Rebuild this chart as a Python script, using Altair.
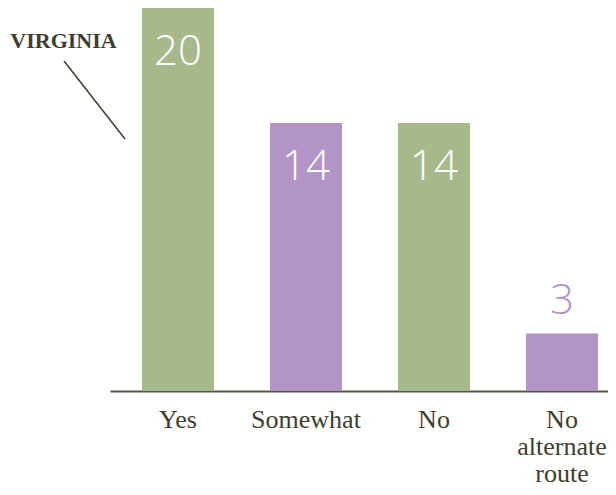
import altair as alt
import pandas as pd

categories = ["Yes", "Somewhat", "No", "No alternate route"]
values = [20, 14, 14, 3]
bar_colors = ["#a7b98c", "#b394c6", "#a7b98c", "#b394c6"]
annotation_text = ["VIRGINIA"]

df = pd.DataFrame({"category": categories, "value": values})
ann = pd.DataFrame({"label": annotation_text})

ink = "#3e3e2e"
purple = "#b394c6"

x = alt.X(
    "category:N",
    sort=categories,
    scale=alt.Scale(paddingInner=0.4375, paddingOuter=0.164, align=0.762),
    axis=alt.Axis(
        title=None,
        labelExpr="datum.label == 'No alternate route' ? ['No', 'alternate', 'route'] : datum.label",
    ),
)
y = alt.Y("value:Q", scale=alt.Scale(domain=[0, 20], nice=False), axis=None)

base = alt.Chart(df).encode(x=x, y=y)

bars = base.mark_bar().encode(
    color=alt.Color("category:N", scale=alt.Scale(domain=categories, range=bar_colors), legend=None)
)

inside = base.transform_filter("datum.value >= 5").mark_text(
    font="Open Sans", fontWeight=300, fontSize=42, color="white", baseline="alphabetic", dy=57
).encode(text="value:Q")

outside = base.transform_filter("datum.value < 5").mark_text(
    font="Open Sans", fontWeight=300, fontSize=42, color=purple, baseline="alphabetic", dy=-20
).encode(text="value:Q")

ann_base = alt.Chart(ann)
leader = ann_base.mark_rule(color=ink, strokeWidth=1.5).encode(
    x=alt.value(-46), y=alt.value(53), x2=alt.value(15), y2=alt.value(131)
)
ann_text = ann_base.mark_text(
    font="Liberation Serif", fontWeight="bold", fontSize=22, color=ink, baseline="alphabetic", align="center"
).encode(x=alt.value(-46.5), y=alt.value(40), text="label:N")

chart = (
    alt.layer(bars, inside, outside, leader, ann_text)
    .properties(
        width=498,
        height=383,
        autosize=alt.AutoSizeParams(type="none"),
        padding={"left": 102, "top": 0, "right": 0, "bottom": 96},
    )
    .configure_view(stroke=None)
    .configure_axisX(
        labelAngle=0,
        ticks=False,
        labelPadding=15,
        labelFont="Liberation Serif",
        labelFontSize=26,
        labelColor=ink,
        labelLineHeight=27,
        domainColor="#55553f",
        domainWidth=2,
        grid=False,
    )
)

chart.save("out.html", embed_options={"renderer": "svg", "actions": False})
